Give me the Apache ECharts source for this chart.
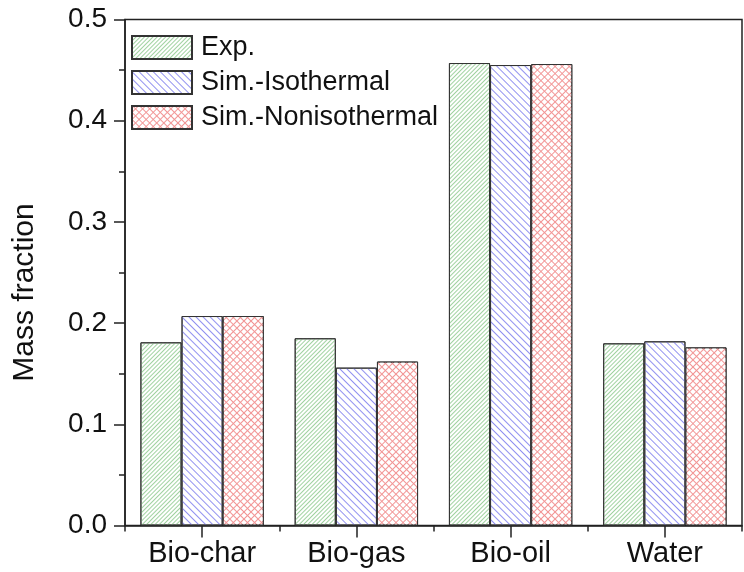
<!DOCTYPE html>
<html>
<head>
<meta charset="utf-8">
<script src="https://cdn.jsdelivr.net/npm/echarts@6/dist/echarts.min.js"></script>
<style>
html,body{margin:0;padding:0;background:#fff;}
#chart{width:744px;height:572px;}
</style>
</head>
<body>
<div id="chart"></div>
<script>
const categories = ['Bio-char', 'Bio-gas', 'Bio-oil', 'Water'];
const seriesNames = ['Exp.', 'Sim.-Isothermal', 'Sim.-Nonisothermal'];
const expValues = [0.181, 0.185, 0.457, 0.180];
const isoValues = [0.207, 0.156, 0.455, 0.182];
const nonisoValues = [0.207, 0.162, 0.456, 0.176];
const yTickLabels = ['0.0', '0.1', '0.2', '0.3', '0.4', '0.5'];

const FONT = "'Liberation Sans', Arial, sans-serif";

const styles = [
  {
    color: '#ffffff', borderColor: '#333', borderWidth: 1,
    decal: { symbol: 'rect', symbolSize: 1, color: 'rgb(160,210,160)',
             dashArrayX: [1, 0], dashArrayY: [1, 2], rotation: -Math.PI / 4 }
  },
  {
    color: '#ffffff', borderColor: '#333', borderWidth: 1,
    decal: { symbol: 'rect', symbolSize: 1, color: 'rgb(145,145,240)',
             dashArrayX: [1, 0], dashArrayY: [1, 4], rotation: Math.PI / 4 }
  },
  {
    color: 'rgb(242,150,150)', borderColor: '#333', borderWidth: 1,
    decal: { symbol: 'rect', symbolSize: 1, color: '#ffffff',
             dashArrayX: [4, 1], dashArrayY: [4, 1], rotation: Math.PI / 4 }
  }
];
const values = [expValues, isoValues, nonisoValues];

const chart = echarts.init(document.getElementById('chart'), null, { renderer: 'canvas' });
chart.setOption({
  animation: false,
  backgroundColor: '#ffffff',
  grid: {
    left: 125, right: 2, top: 19.5, bottom: 46.5,
    show: true, borderColor: '#222', borderWidth: 1.5, backgroundColor: 'transparent'
  },
  legend: {
    orient: 'vertical',
    left: 131, top: 34,
    padding: 0,
    itemWidth: 60, itemHeight: 23, itemGap: 8,
    icon: 'rect',
    textStyle: { fontFamily: FONT, fontSize: 27, color: '#111', lineHeight: 23, padding: [0, 0, 0, 4] },
    data: seriesNames
  },
  xAxis: [
    {
      type: 'category', data: categories, position: 'bottom',
      axisLine: { show: true, lineStyle: { color: '#222', width: 1.5 } },
      axisTick: { show: true, alignWithLabel: true, length: 12, lineStyle: { color: '#222', width: 1.5 } },
      axisLabel: { fontFamily: FONT, fontSize: 29, color: '#111', margin: 14 },
      splitLine: { show: false }
    },
    {
      type: 'category', data: categories, position: 'bottom',
      axisLine: { show: false },
      axisTick: { show: true, length: 6, lineStyle: { color: '#222', width: 1.5 } },
      axisLabel: { show: false },
      splitLine: { show: false }
    }
  ],
  yAxis: {
    type: 'value', min: 0, max: 0.5, interval: 0.1,
    name: 'Mass fraction', nameLocation: 'middle', nameGap: 85,
    nameTextStyle: { fontFamily: FONT, fontSize: 30, color: '#111', padding: [0, 40, 0, 0] },
    axisLine: { show: true, lineStyle: { color: '#222', width: 1.5 } },
    axisTick: { show: true, length: 11, lineStyle: { color: '#222', width: 1.5 } },
    minorTick: { show: true, splitNumber: 2, length: 6, lineStyle: { color: '#222', width: 1.5 } },
    axisLabel: {
      fontFamily: FONT, fontSize: 28, color: '#111', margin: 18,
      formatter: (v) => yTickLabels[Math.round(v * 10)]
    },
    splitLine: { show: false }
  },
  series: seriesNames.map((n, i) => ({
    name: n, type: 'bar', data: values[i],
    xAxisIndex: 0,
    barGap: '0%', barCategoryGap: '20%',
    itemStyle: styles[i]
  }))
});
</script>
</body>
</html>
